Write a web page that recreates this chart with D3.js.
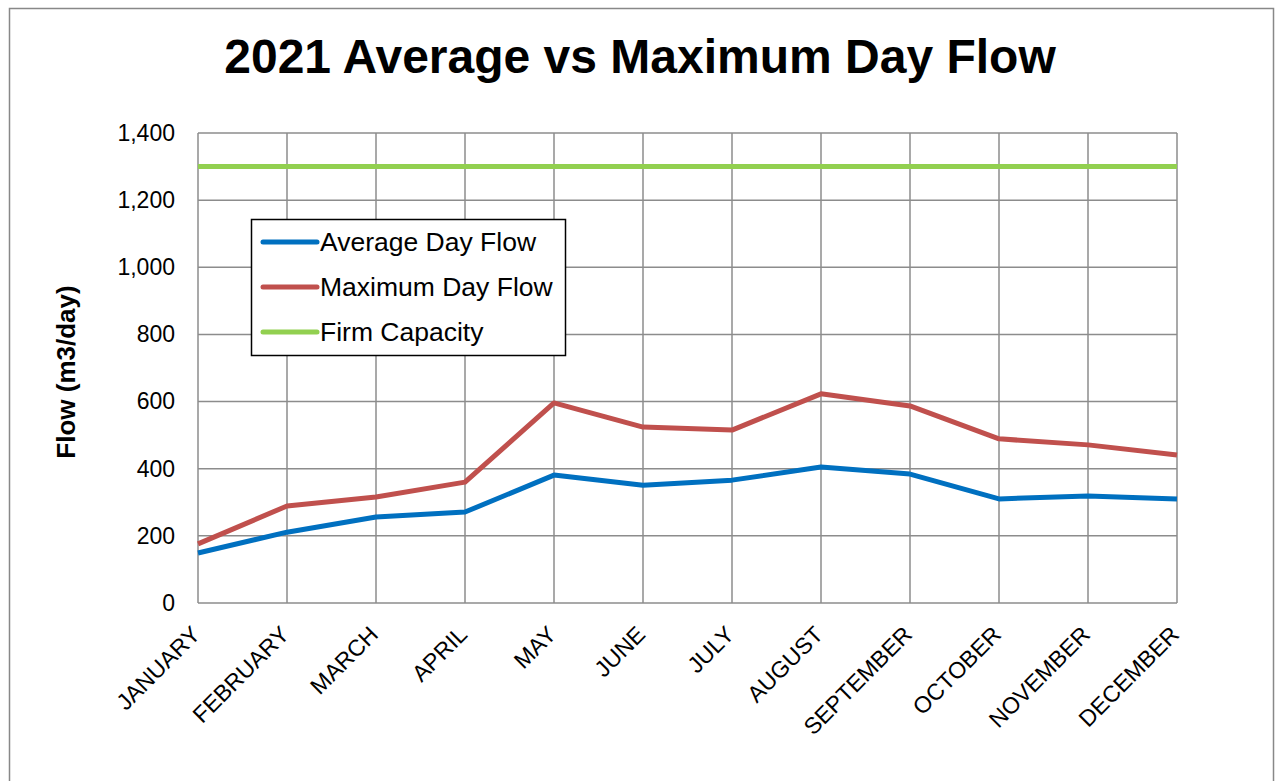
<!DOCTYPE html>
<html>
<head>
<meta charset="utf-8">
<script src="https://cdn.jsdelivr.net/npm/d3@7"></script>
<style>
  body { margin: 0; background: #fff; }
  text { font-family: "Liberation Sans", Arial, sans-serif; fill: #000; }
</style>
</head>
<body>
<div id="main"></div>
<script>
// DATA
const months = ["JANUARY", "FEBRUARY", "MARCH", "APRIL", "MAY", "JUNE",
                "JULY", "AUGUST", "SEPTEMBER", "OCTOBER", "NOVEMBER", "DECEMBER"]
const avgFlow = [149, 211, 256, 271, 381, 351, 366, 405, 384, 310, 319, 310]
const maxFlow = [176, 289, 316, 360, 596, 524, 515, 623, 587, 489, 471, 441]
const firmCapacity = [1300, 1300, 1300, 1300, 1300, 1300, 1300, 1300, 1300, 1300, 1300, 1300]
const yTicks = [0, 200, 400, 600, 800, 1000, 1200, 1400]

const series = [
    { name: "Average Day Flow", values: avgFlow, color: "#0070C0" },
    { name: "Maximum Day Flow", values: maxFlow, color: "#C0504D" },
    { name: "Firm Capacity", values: firmCapacity, color: "#92D050" }
]

// SETUP
const width = 1278, height = 781
const plot = { left: 198, right: 1177, top: 133, bottom: 603 }

const svg = d3.select("#main").append("svg")
    .attr("width", width)
    .attr("height", height)

// outer frame
svg.append("rect")
    .attr("x", 9.5).attr("y", 8.5)
    .attr("width", 1264).attr("height", 800)
    .attr("fill", "none")
    .attr("stroke", "#888")
    .attr("stroke-width", 1.5)

const x = d3.scalePoint()
    .domain(months)
    .range([plot.left, plot.right])

const y = d3.scaleLinear()
    .domain([0, 1400])
    .range([plot.bottom, plot.top])

// GRID
const grid = svg.append("g")
grid.selectAll("line.h").data(yTicks)
    .enter().append("line")
        .attr("x1", plot.left).attr("x2", plot.right)
        .attr("y1", d => y(d)).attr("y2", d => y(d))
        .attr("stroke", "#8c8c8c").attr("stroke-width", 1.5)
grid.selectAll("line.v").data(months)
    .enter().append("line")
        .attr("x1", d => x(d)).attr("x2", d => x(d))
        .attr("y1", plot.top).attr("y2", plot.bottom)
        .attr("stroke", "#8c8c8c").attr("stroke-width", 1.5)

// AXES
const yAxis = svg.append("g")
    .attr("transform", `translate(${plot.left},0)`)
    .call(d3.axisLeft(y).tickValues(yTicks).tickSize(0).tickPadding(23).tickFormat(d3.format(",")))
yAxis.select(".domain").remove()
yAxis.selectAll("text")
    .attr("font-size", 23)
    .attr("font-family", "Liberation Sans, Arial, sans-serif")
    .attr("fill", "#000")

const xAxis = svg.append("g")
    .attr("transform", `translate(0,${plot.bottom})`)
    .call(d3.axisBottom(x).tickSize(0).tickFormat(d => d))
xAxis.select(".domain").remove()
xAxis.selectAll("text")
    .attr("font-size", 23)
    .attr("font-family", "Liberation Sans, Arial, sans-serif")
    .attr("fill", "#000")
    .attr("text-anchor", "end")
    .attr("y", 0)
    .attr("dy", 0)
    .attr("transform", "translate(3,33) rotate(-45)")

// LINES
const line = d3.line()
    .x((d, i) => x(months[i]))
    .y(d => y(d))

svg.selectAll("path.series").data(series)
    .enter().append("path")
        .attr("class", "series")
        .attr("d", d => line(d.values))
        .attr("fill", "none")
        .attr("stroke", d => d.color)
        .attr("stroke-width", 5)
        .attr("stroke-linejoin", "round")

// TITLE
svg.append("text")
    .attr("x", 640).attr("y", 73)
    .attr("text-anchor", "middle")
    .attr("font-size", 48)
    .attr("font-weight", "bold")
    .text("2021 Average vs Maximum Day Flow")

svg.append("text")
    .attr("transform", "translate(75,372) rotate(-90)")
    .attr("text-anchor", "middle")
    .attr("font-size", 26)
    .attr("font-weight", "bold")
    .text("Flow (m3/day)")

// LEGEND
const legend = svg.append("g").attr("transform", "translate(251,219)")
legend.append("rect")
    .attr("x", 0.5).attr("y", 0.5)
    .attr("width", 314).attr("height", 136)
    .attr("fill", "#fff")
    .attr("stroke", "#000")
    .attr("stroke-width", 1.5)

const item = legend.selectAll("g.item").data(series)
    .enter().append("g")
        .attr("transform", (d, i) => `translate(0,${23 + i * 45})`)
item.append("line")
    .attr("x1", 12).attr("x2", 66)
    .attr("stroke", d => d.color)
    .attr("stroke-width", 5)
    .attr("stroke-linecap", "round")
item.append("text")
    .attr("x", 69).attr("dy", "0.35em")
    .attr("font-size", 26.5)
    .text(d => d.name)
</script>
</body>
</html>
